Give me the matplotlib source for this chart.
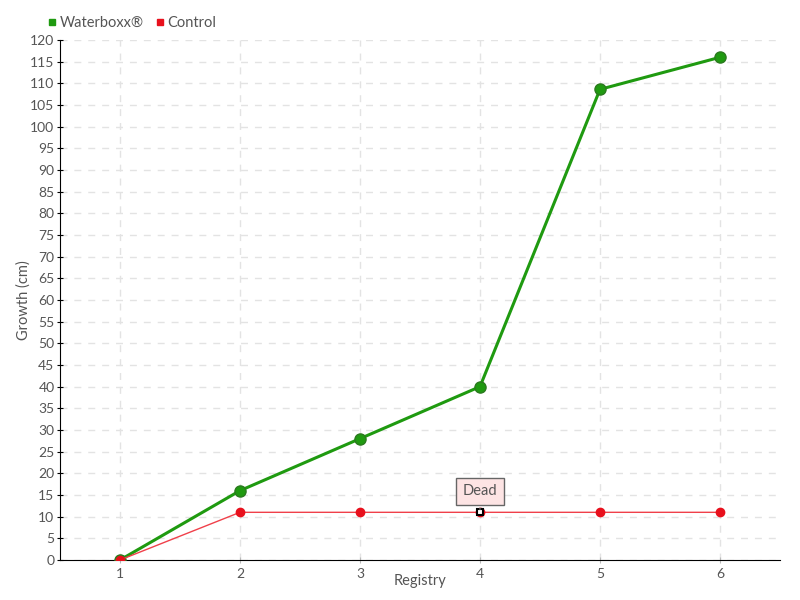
import matplotlib
matplotlib.use("Agg")
import matplotlib.pyplot as plt
from matplotlib.lines import Line2D

registry = [1, 2, 3, 4, 5, 6]
waterboxx = [0, 16, 28, 40, 108.6, 116]
control = [0, 11, 11, 11, 11, 11]
y_ticks = list(range(0, 121, 5))

plt.rcParams['font.family'] = ['Lato', 'DejaVu Sans']
TXT = '#555555'

fig = plt.figure(figsize=(8, 6), dpi=100)
ax = fig.add_axes([0.075, 0.0667, 0.9, 0.8667])

ax.plot(registry, waterboxx, color='#1f9a10', lw=2.2, marker='o', ms=8,
        markerfacecolor='#1f9a10', markeredgecolor='#2a7a1e', zorder=3)
ax.plot(registry, control, color='#f0404a', lw=1.0, marker='o', ms=6,
        markerfacecolor='#e8101c', markeredgecolor='#e8101c', zorder=4)

# dead marker on control line
ax.plot([4], [control[3]], marker='s', ms=5, markerfacecolor='white',
        markeredgecolor='black', mew=1.5, zorder=5)
ax.annotate('Dead', xy=(4, control[3]), xytext=(0, 15), textcoords='offset points',
            ha='center', va='center', fontsize=10.5, color=TXT,
            bbox=dict(boxstyle='square,pad=0.45', fc='#fde4e4', ec='#666666', lw=1),
            arrowprops=dict(arrowstyle='-', color='#666666', lw=1), zorder=6)

ax.set_xlim(0.5, 6.5)
ax.set_ylim(0, 120)
ax.set_xticks(registry)
ax.set_yticks(y_ticks)
ax.grid(True, color='#e3e3e3', linestyle=(0, (5, 5)), lw=1)
ax.set_axisbelow(True)
for s in ['top', 'right']:
    ax.spines[s].set_visible(False)
ax.spines['left'].set_color('black')
ax.spines['bottom'].set_color('black')
ax.tick_params(colors=TXT, labelsize=10, length=4, direction='inout')
ax.tick_params(axis='y', pad=2)
ax.tick_params(axis='x', color='#bbbbbb')
ax.tick_params(axis='y', color='black')
ax.set_xlabel('Registry', color=TXT, fontsize=10.5)
ax.set_ylabel('Growth (cm)', color=TXT, fontsize=10.5)
ax.xaxis.set_label_coords(0.5, -0.04)
ax.yaxis.set_label_coords(-0.05, 0.5)
ax.xaxis.label.set_va('center')
ax.yaxis.label.set_va('center')

handles = [Line2D([], [], ls='none', marker='s', ms=5, color='#1f9a10'),
           Line2D([], [], ls='none', marker='s', ms=5, color='#e8101c')]
fig.legend(handles, ['Waterboxx®', 'Control'], loc='upper left',
           bbox_to_anchor=(0.04, 0.995), ncol=2, frameon=False, fontsize=10.5,
           handletextpad=0.0, columnspacing=0.6, labelcolor=TXT, handlelength=1)

fig.savefig('out.png', dpi=100)
